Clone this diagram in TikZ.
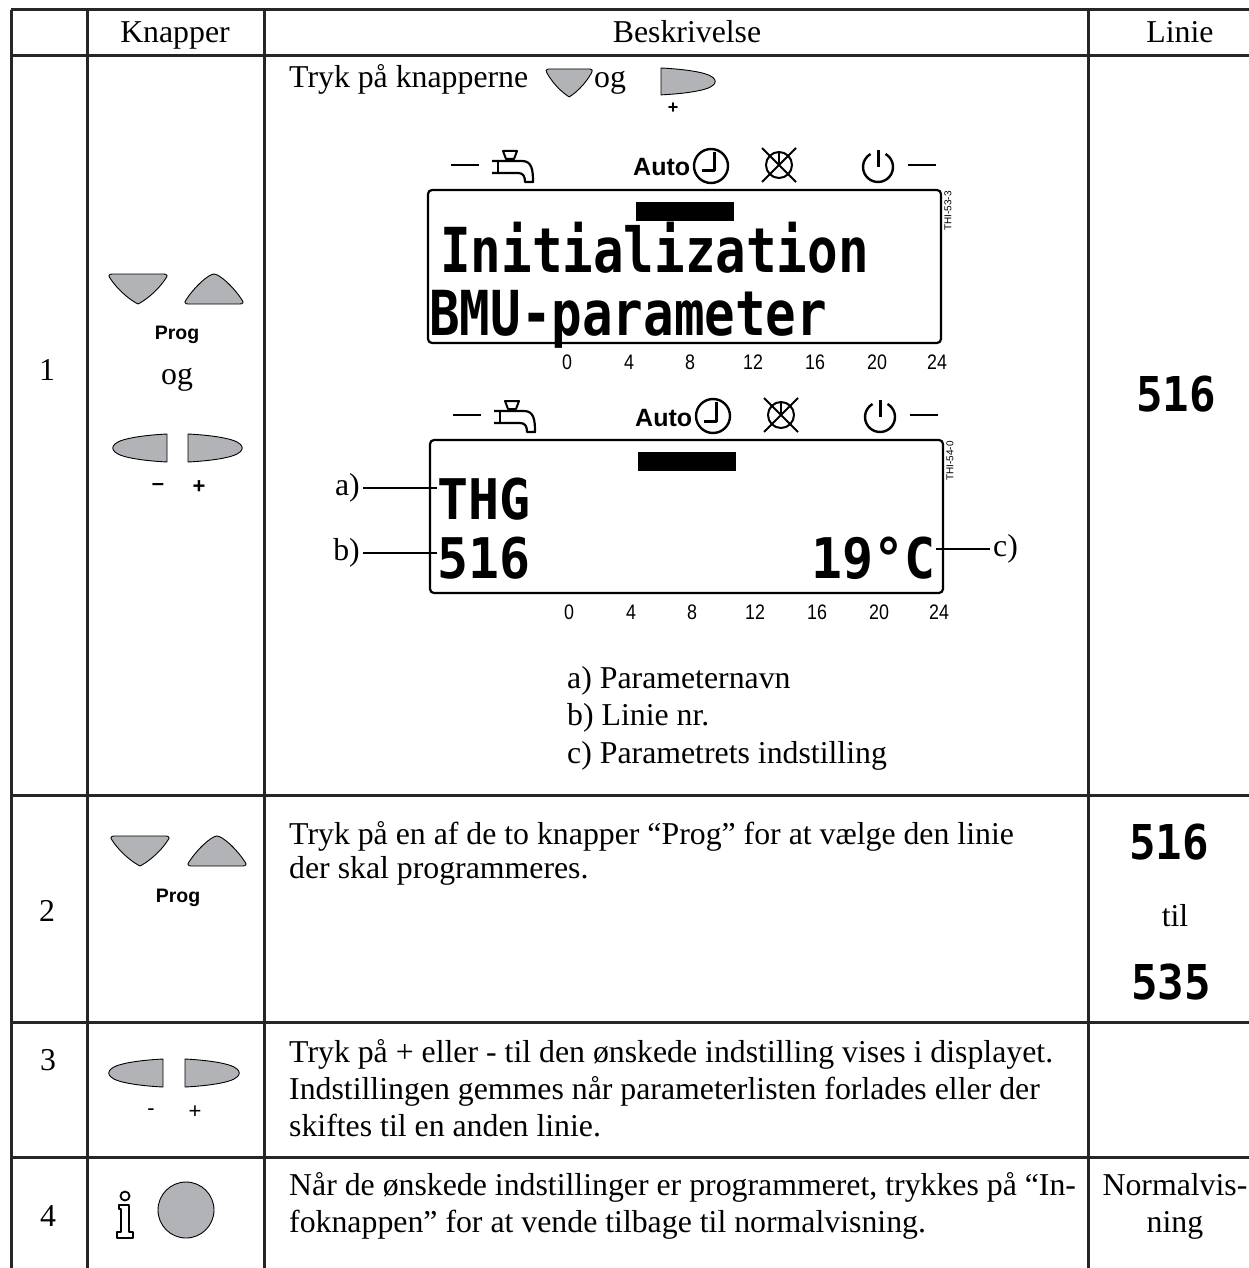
\documentclass[tikz,border=0pt]{standalone}
\usepackage{fontspec}
\usepackage{graphicx}
\setmainfont{Liberation Serif}
\newfontfamily\sansf{Liberation Sans}
\newfontfamily\hourf[FakeStretch=0.85]{Liberation Sans}
\newfontfamily\lcdA[FakeStretch=0.82]{DejaVu Sans Mono}
\newfontfamily\lcdB[FakeStretch=0.92]{DejaVu Sans Mono}
\definecolor{btngray}{HTML}{B1B3B6}
\definecolor{rulec}{HTML}{262626}
\newcommand\txtsz{\fontsize{31.8}{36}\selectfont}

\tikzset{
  tbl/.style={draw=rulec, line width=3pt},
  txt/.style={font=\txtsz, inner sep=0pt, anchor=base west},
  ctxt/.style={font=\txtsz, inner sep=0pt, anchor=base},
  btnfill/.style={fill=btngray, draw=black, line width=0.9pt},
  icon/.style={draw=black, line width=2.4pt},
  hour/.style={font=\hourf\fontsize{21}{21}\selectfont, inner sep=0pt},
  progl/.style={font=\sansf\bfseries\fontsize{19.5}{20}\selectfont, inner sep=0pt},
  pmbold/.style={font=\sansf\bfseries\fontsize{22}{22}\selectfont, inner sep=0pt},
  pmthin/.style={font=\sansf\fontsize{22}{22}\selectfont, inner sep=0pt},
  lcdbig/.style={font=\lcdA\bfseries\fontsize{62}{62}\selectfont, inner sep=0pt},
  lcdmid/.style={font=\lcdB\bfseries\fontsize{56}{56}\selectfont, inner sep=0pt},
  lcdsmall/.style={font=\lcdB\bfseries\fontsize{48}{48}\selectfont, inner sep=0pt},
  lead/.style={draw=black, line width=1.4pt},
  downbtn/.pic={\path[btnfill] (3,0) -- (55,0) .. controls (58,0) and (59,2) .. (57,4)
      .. controls (48,18) and (35,27) .. (29,30) .. controls (23,27) and (10,18) .. (1,4)
      .. controls (-1,2) and (0,0) .. (3,0) -- cycle;},
  upbtn/.pic={\path[btnfill] (3,30) -- (55,30) .. controls (58,30) and (59,28) .. (57,26)
      .. controls (48,12) and (34,0) .. (29,0) .. controls (24,0) and (10,12) .. (1,26)
      .. controls (-1,28) and (0,30) .. (3,30) -- cycle;},
  leftbtn/.pic={\path[btnfill] (55,0) -- (55,28) .. controls (35,27) and (9,24) .. (3,18)
      .. controls (0,15.5) and (0,12.5) .. (3,10) .. controls (9,4) and (35,1) .. (55,0) -- cycle;},
  rightbtn/.pic={\path[btnfill] (0,0) -- (0,28) .. controls (20,27) and (46,24) .. (52,18)
      .. controls (55,15.5) and (55,12.5) .. (52,10) .. controls (46,4) and (20,1) .. (0,0) -- cycle;},
}

% display with icons; #1,#2 shift, #3 name prefix, #4 label
\newcommand\Disp[4]{%
\begin{scope}[shift={(#1,#2)}]
  % icon row
  \draw[icon] (451,165) -- (479,165);
  \draw[line width=2pt] (503,151) -- (517,151) -- (514,159) -- (506,159) -- cycle;
  \draw[line width=2.2pt] (492,161) -- (522,161) .. controls (532,161) and (533,170) .. (533,182)
      -- (525,182) .. controls (525,176) and (523,173) .. (518,173) -- (492,173);
  \draw[line width=2.2pt] (498,161) -- (498,173);
  \node[font=\sansf\bfseries\fontsize{25}{25}\selectfont, inner sep=0pt, anchor=base west]
      (#3auto) at (633,176) {Auto};
  \draw[line width=2.4pt] (711,166) circle (17);
  \draw[line width=3pt] (714,152) -- (714,171) -- (702,171);
  \draw[line width=2pt] (779,165) circle (13);
  \draw[line width=2pt] (762,148) -- (796,182) (796,148) -- (762,182);
  \draw[line width=2.4pt] (779,152) -- (779,165);
  \draw[line width=2.4pt] (878,167) ++(-60:15) arc (-60:240:15);
  \draw[line width=3pt] (878,150) -- (878,167);
  \draw[icon] (908,165) -- (936,165);
  % box
  \draw[line width=2.2pt, rounded corners=4pt] (428,190) rectangle (941,343);
  \fill (636,202) rectangle (734,221);
  \node[rotate=90, font=\sansf\fontsize{10}{10}\selectfont, inner sep=0pt] (#3thi) at (948,211) {#4};
  \foreach \h/\xx in {0/567,4/629,8/690,12/753,16/815,20/877,24/937}
     \node[hour] (#3h\h) at (\xx,362) {\h};
\end{scope}}

\begin{document}
\begin{tikzpicture}[x=1pt, y=-1pt, line join=round]
\useasboundingbox (0,0) rectangle (1249,1268);

% ---- table frame
\draw[tbl] (11,10) -- (1250,10);
\foreach \yy in {56,795,1022,1157} \draw[tbl] (11,\yy) -- (1250,\yy);
\foreach \xx in {11,87,264,1088} \draw[tbl] (\xx,10) -- (\xx,1269);

% ---- header
\node[ctxt] (hKnap) at (175,43) {Knapper};
\node[ctxt] (hBesk) at (687,43) {Beskrivelse};
\node[ctxt] (hLin) at (1180,43) {Linie};

% ---- row numbers
\node[ctxt] (n1) at (47,380) {1};
\node[ctxt] (n2) at (47,921) {2};
\node[ctxt] (n3) at (48,1070) {3};
\node[ctxt] (n4) at (48,1226) {4};

% ---- row 1 buttons
\pic at (109,274) {downbtn};
\pic at (185,274) {upbtn};
\node[progl] (prog1) at (177,335) {Prog};
\node[ctxt] (og1) at (177,384) {og};
\pic at (112,434) {leftbtn};
\pic at (188,434) {rightbtn};
\node[pmbold] (minus1) at (158,487) {–};
\node[pmbold] (plus1) at (199,487) {+};

% ---- row 1 description
\node[txt] (t1) at (289,88) {Tryk på knapperne};
\pic[xscale=0.8, yscale=0.93] at (546,69) {downbtn};
\node[txt] (og2) at (594,88) {og};
\pic[yscale=0.96] at (661,68) {rightbtn};
\node[font=\sansf\bfseries\fontsize{18}{18}\selectfont, inner sep=0pt] (plus2) at (673,108) {+};

\Disp{0}{0}{dA}{THI-53-3}
\node[lcdbig, anchor=base west] (init) at (440,272) {Initialization};
\node[lcdbig, anchor=base west] (bmu) at (429,335) {BMU-parameter};

\Disp{2}{250}{dB}{THI-54-0}
\node[lcdmid, anchor=base west] (thg) at (437,519) {THG};
\node[lcdmid, anchor=base west] (p516) at (437,578) {516};
\node[lcdmid, anchor=base east] (deg) at (936,578) {19°C};
\node[font=\txtsz, inner sep=0pt, anchor=east] (la) at (360,488) {a)};
\node[font=\txtsz, inner sep=0pt, anchor=east] (lb) at (360,553) {b)};
\node[font=\txtsz, inner sep=0pt, anchor=west] (lc) at (993,549) {c)};
\draw[lead] ([xshift=3pt]la.east) -- (la.east -| thg.west);
\draw[lead] ([xshift=3pt]lb.east) -- (lb.east -| p516.west);
\draw[lead] (lc.west -| deg.east) -- ([xshift=-3pt]lc.west);

\node[txt] (leg1) at (567,688) {a) Parameternavn};
\node[txt] (leg2) at (567,725) {b) Linie nr.};
\node[txt] (leg3) at (567,763) {c) Parametrets indstilling};

\node[lcdsmall] (lin1) at (1176,394) {516};

% ---- row 2
\pic at (111,836) {downbtn};
\pic at (188,836) {upbtn};
\node[progl] (prog2) at (178,898) {Prog};
\node[txt] (t2a) at (289,844) {Tryk på en af de to knapper ``Prog'' for at vælge den linie};
\node[txt] (t2b) at (289,878) {der skal programmeres.};
\node[lcdsmall] (lin2a) at (1169,842) {516};
\node[ctxt] (til) at (1175,926) {til};
\node[lcdsmall] (lin2b) at (1171,982) {535};

% ---- row 3
\pic at (108,1059) {leftbtn};
\pic at (185,1059) {rightbtn};
\node[pmthin] (minus3) at (151,1112) {-};
\node[pmthin] (plus3) at (195,1112) {+};
\node[txt] (t3a) at (289,1062) {Tryk på + eller - til den ønskede indstilling vises i displayet.};
\node[txt] (t3b) at (289,1099) {Indstillingen gemmes når parameterlisten forlades eller der};
\node[txt] (t3c) at (289,1136) {skiftes til en anden linie.};

% ---- row 4
\draw[line width=1.8pt] (125,1196) circle (4.5);
\draw[line width=1.8pt] (119,1205) -- (129,1205) -- (129,1232) -- (133,1232) -- (133,1238)
   -- (117,1238) -- (117,1232) -- (121,1232) -- (121,1209) -- (119,1209) -- cycle;
\draw[btnfill] (186,1210) circle (28);
\node[txt] (t4a) at (289,1195) {Når de ønskede indstillinger er programmeret, trykkes på ``In-};
\node[txt] (t4b) at (289,1232) {foknappen'' for at vende tilbage til normalvisning.};
\node[ctxt] (nv1) at (1175,1195) {Normalvis-};
\node[ctxt] (nv2) at (1175,1232) {ning};
\end{tikzpicture}
\end{document}
